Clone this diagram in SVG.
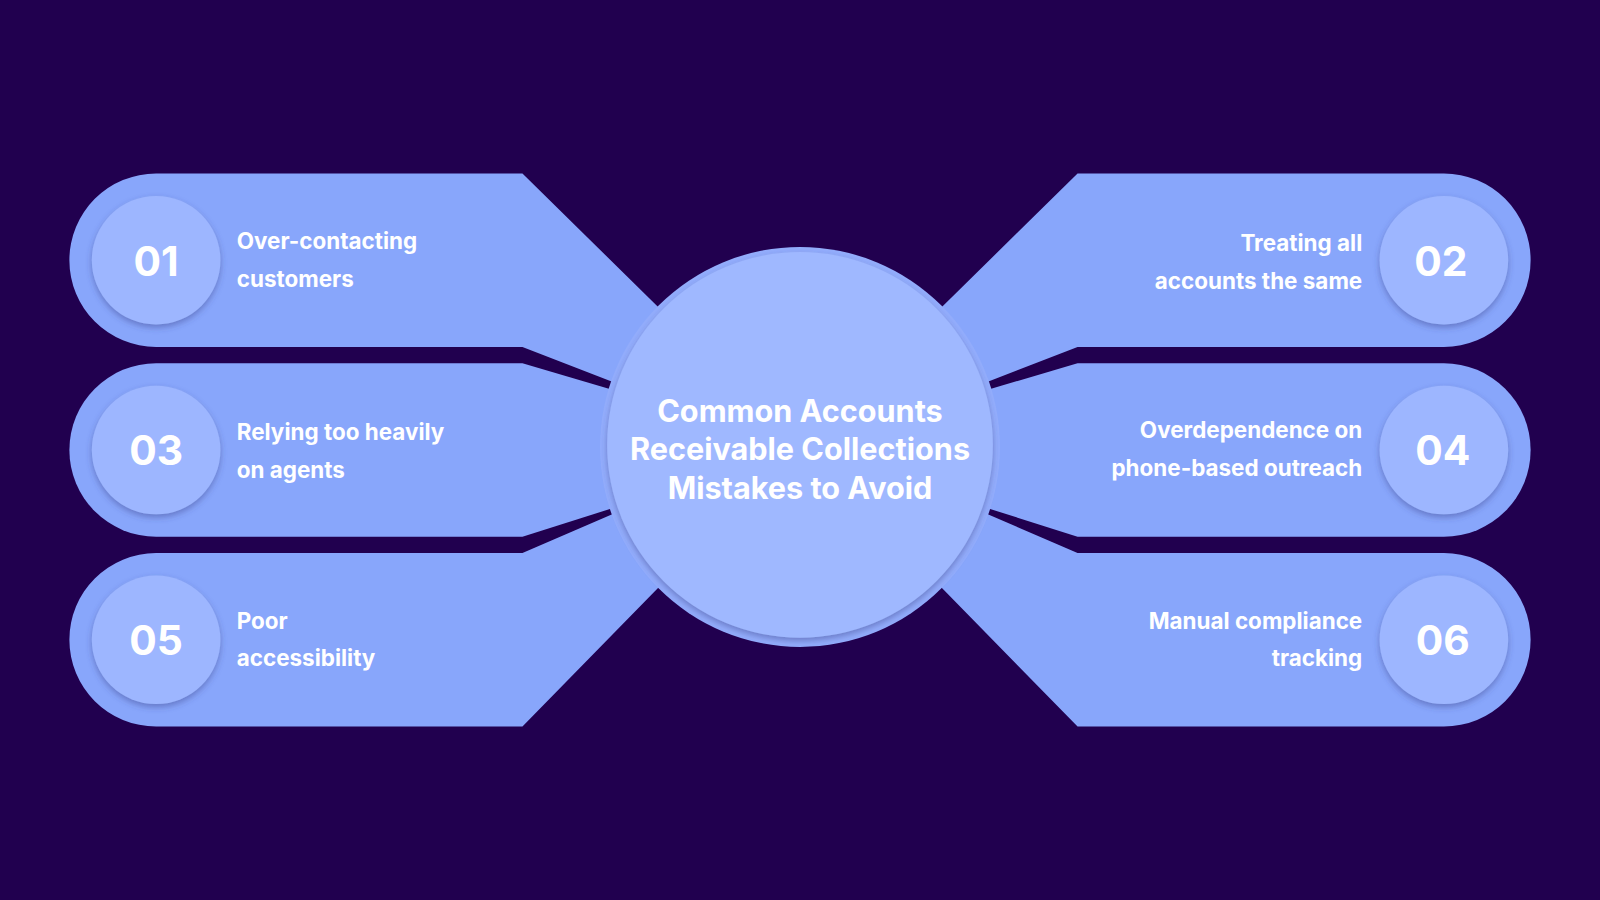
<svg xmlns="http://www.w3.org/2000/svg" width="1600" height="900" viewBox="0 0 1600 900">
<defs>
<filter id="sh" x="-30%" y="-30%" width="160%" height="160%"><feDropShadow dx="0" dy="3" stdDeviation="3" flood-color="#3a3f8a" flood-opacity="0.45"/></filter>
<style>
.band{fill:#88a6fb}
.num{fill:#9db6ff;filter:url(#sh)}
.nt{font-family:Inter,"Liberation Sans",sans-serif;font-weight:700;font-size:40px;fill:#fff;text-anchor:middle}
.lt{font-family:Inter,"Liberation Sans",sans-serif;font-weight:700;font-size:22px;fill:#fff}
.ct{font-family:Inter,"Liberation Sans",sans-serif;font-weight:700;font-size:30px;fill:#fff;text-anchor:middle}
</style>
</defs>
<rect width="1600" height="900" fill="#21004f"/>
<g transform="scale(1.020408)">
<g id="connectors">
<g id="bands-left">
<path class="band" d="M153,170 H512 L700,355 L600,374 L512,340 H153 A85,85 0 0 1 153,170 Z"/>
<path class="band" d="M153,356 H512 L600,382 L600,498 L512,526 H153 A85,85 0 0 1 153,356 Z"/>
<path class="band" d="M153,542 H512 L600,504 L700,520 L512,712 H153 A85,85 0 0 1 153,542 Z"/>
</g>
<g id="bands-right" transform="translate(1568,0) scale(-1,1)">
<path class="band" d="M153,170 H512 L700,355 L600,374 L512,340 H153 A85,85 0 0 1 153,170 Z"/>
<path class="band" d="M153,356 H512 L600,382 L600,498 L512,526 H153 A85,85 0 0 1 153,356 Z"/>
<path class="band" d="M153,542 H512 L600,504 L700,520 L512,712 H153 A85,85 0 0 1 153,542 Z"/>
</g>
</g>
<g id="center">
<circle cx="784" cy="438" r="196" fill="#93adfc"/>
<circle cx="784" cy="436" r="189" fill="#9fb8ff" filter="url(#sh)"/>
<text class="ct" x="784" y="414">Common Accounts</text>
<text class="ct" x="784" y="451">Receivable Collections</text>
<text class="ct" x="784" y="489">Mistakes to Avoid</text>
</g>
<g id="n01"><circle class="num" cx="153" cy="255" r="63"/><text class="nt" x="153" y="270">01</text>
<text class="lt" x="232" y="244">Over-contacting</text><text class="lt" x="232" y="281">customers</text></g>
<g id="n03"><circle class="num" cx="153" cy="441" r="63"/><text class="nt" x="153" y="456">03</text>
<text class="lt" x="232" y="431">Relying too heavily</text><text class="lt" x="232" y="468">on agents</text></g>
<g id="n05"><circle class="num" cx="153" cy="627" r="63"/><text class="nt" x="153" y="642">05</text>
<text class="lt" x="232" y="616">Poor</text><text class="lt" x="232" y="653">accessibility</text></g>
<g id="n02"><circle class="num" cx="1415" cy="255" r="63"/><text class="nt" x="1412" y="270">02</text>
<text class="lt" x="1335" y="246" text-anchor="end">Treating all</text><text class="lt" x="1335" y="283" text-anchor="end">accounts the same</text></g>
<g id="n04"><circle class="num" cx="1415" cy="441" r="63"/><text class="nt" x="1414" y="456">04</text>
<text class="lt" x="1335" y="429" text-anchor="end">Overdependence on</text><text class="lt" x="1335" y="466" text-anchor="end">phone-based outreach</text></g>
<g id="n06"><circle class="num" cx="1415" cy="627" r="63"/><text class="nt" x="1414" y="642">06</text>
<text class="lt" x="1335" y="616" text-anchor="end">Manual compliance</text><text class="lt" x="1335" y="653" text-anchor="end">tracking</text></g>
</g>
</svg>
